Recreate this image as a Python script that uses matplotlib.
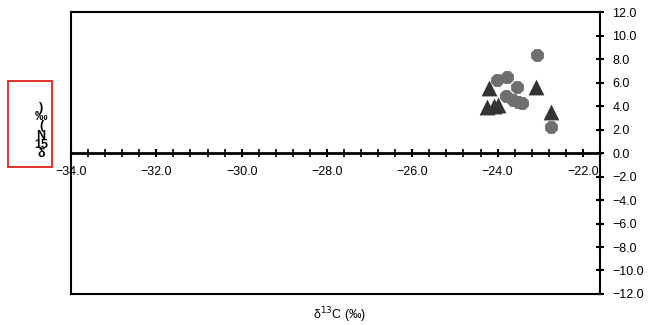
import matplotlib.pyplot as plt
from matplotlib.patches import Rectangle
from matplotlib.ticker import MultipleLocator, FuncFormatter

plt.rcParams['font.family'] = ['Liberation Sans', 'DejaVu Sans']

# d13C / d15N values
tri_x = [-24.2, -23.1, -24.24, -24.09, -23.99, -22.75]
tri_y = [5.5, 5.65, 3.9, 4.0, 4.1, 3.5]
circ_x = [-23.08, -24.01, -23.77, -23.55, -23.81, -23.65, -23.52, -23.42, -22.75]
circ_y = [8.34, 6.2, 6.5, 5.65, 4.88, 4.5, 4.37, 4.23, 2.24]


def fmt(v, pos):
    return ('%.1f' % v).replace('-', '\u2212')


fig = plt.figure(figsize=(6.6, 3.25), dpi=100)
ax = fig.add_axes([0.1076, 0.0954, 0.8015, 0.8676])

ax.scatter(circ_x, circ_y, marker='8', s=100, color='#6e6e6e', zorder=3, linewidths=0)
ax.scatter(tri_x, tri_y, marker='^', s=130, color='#333333', zorder=4, linewidths=0)

ax.set_xlim(-34, -21.6)
ax.set_ylim(-12, 12)

# x axis through zero, frame around
ax.spines['bottom'].set_position(('data', 0))
ax.spines['bottom'].set_linewidth(2)
for s in ['top', 'left', 'right']:
    ax.spines[s].set_linewidth(1.5)
ax.plot([0, 1], [0, 0], transform=ax.transAxes, color='black', lw=1.5, clip_on=False)

ax.xaxis.set_major_locator(MultipleLocator(2))
ax.xaxis.set_minor_locator(MultipleLocator(0.4))
ax.xaxis.set_major_formatter(FuncFormatter(fmt))
ax.tick_params(axis='x', which='major', direction='inout', length=6, width=1.5, labelsize=9, pad=6)
ax.tick_params(axis='x', which='minor', direction='inout', length=6, width=1.2)

ax.yaxis.tick_right()
ax.yaxis.set_major_locator(MultipleLocator(2))
ax.yaxis.set_major_formatter(FuncFormatter(fmt))
ax.tick_params(axis='y', direction='inout', length=6, width=1.5, labelsize=9, pad=6)

fig.text(340 / 660, 1 - 315 / 325, 'δ$^{13}$C (‰)', ha='center', va='center', fontsize=9)

# odd stacked y label inside a red box
fig.patches.append(Rectangle((8 / 660, 1 - 167 / 325), 44 / 660, 86 / 325,
                             transform=fig.transFigure, fill=False, edgecolor='#e0201b', lw=1.3))
fig.text(41 / 660, 1 - 131 / 325, ')\n‰\n(\nN\n15\nδ', ha='center', va='center',
         fontsize=9, linespacing=0.7, fontweight='bold')

fig.savefig('out.png', dpi=100)
